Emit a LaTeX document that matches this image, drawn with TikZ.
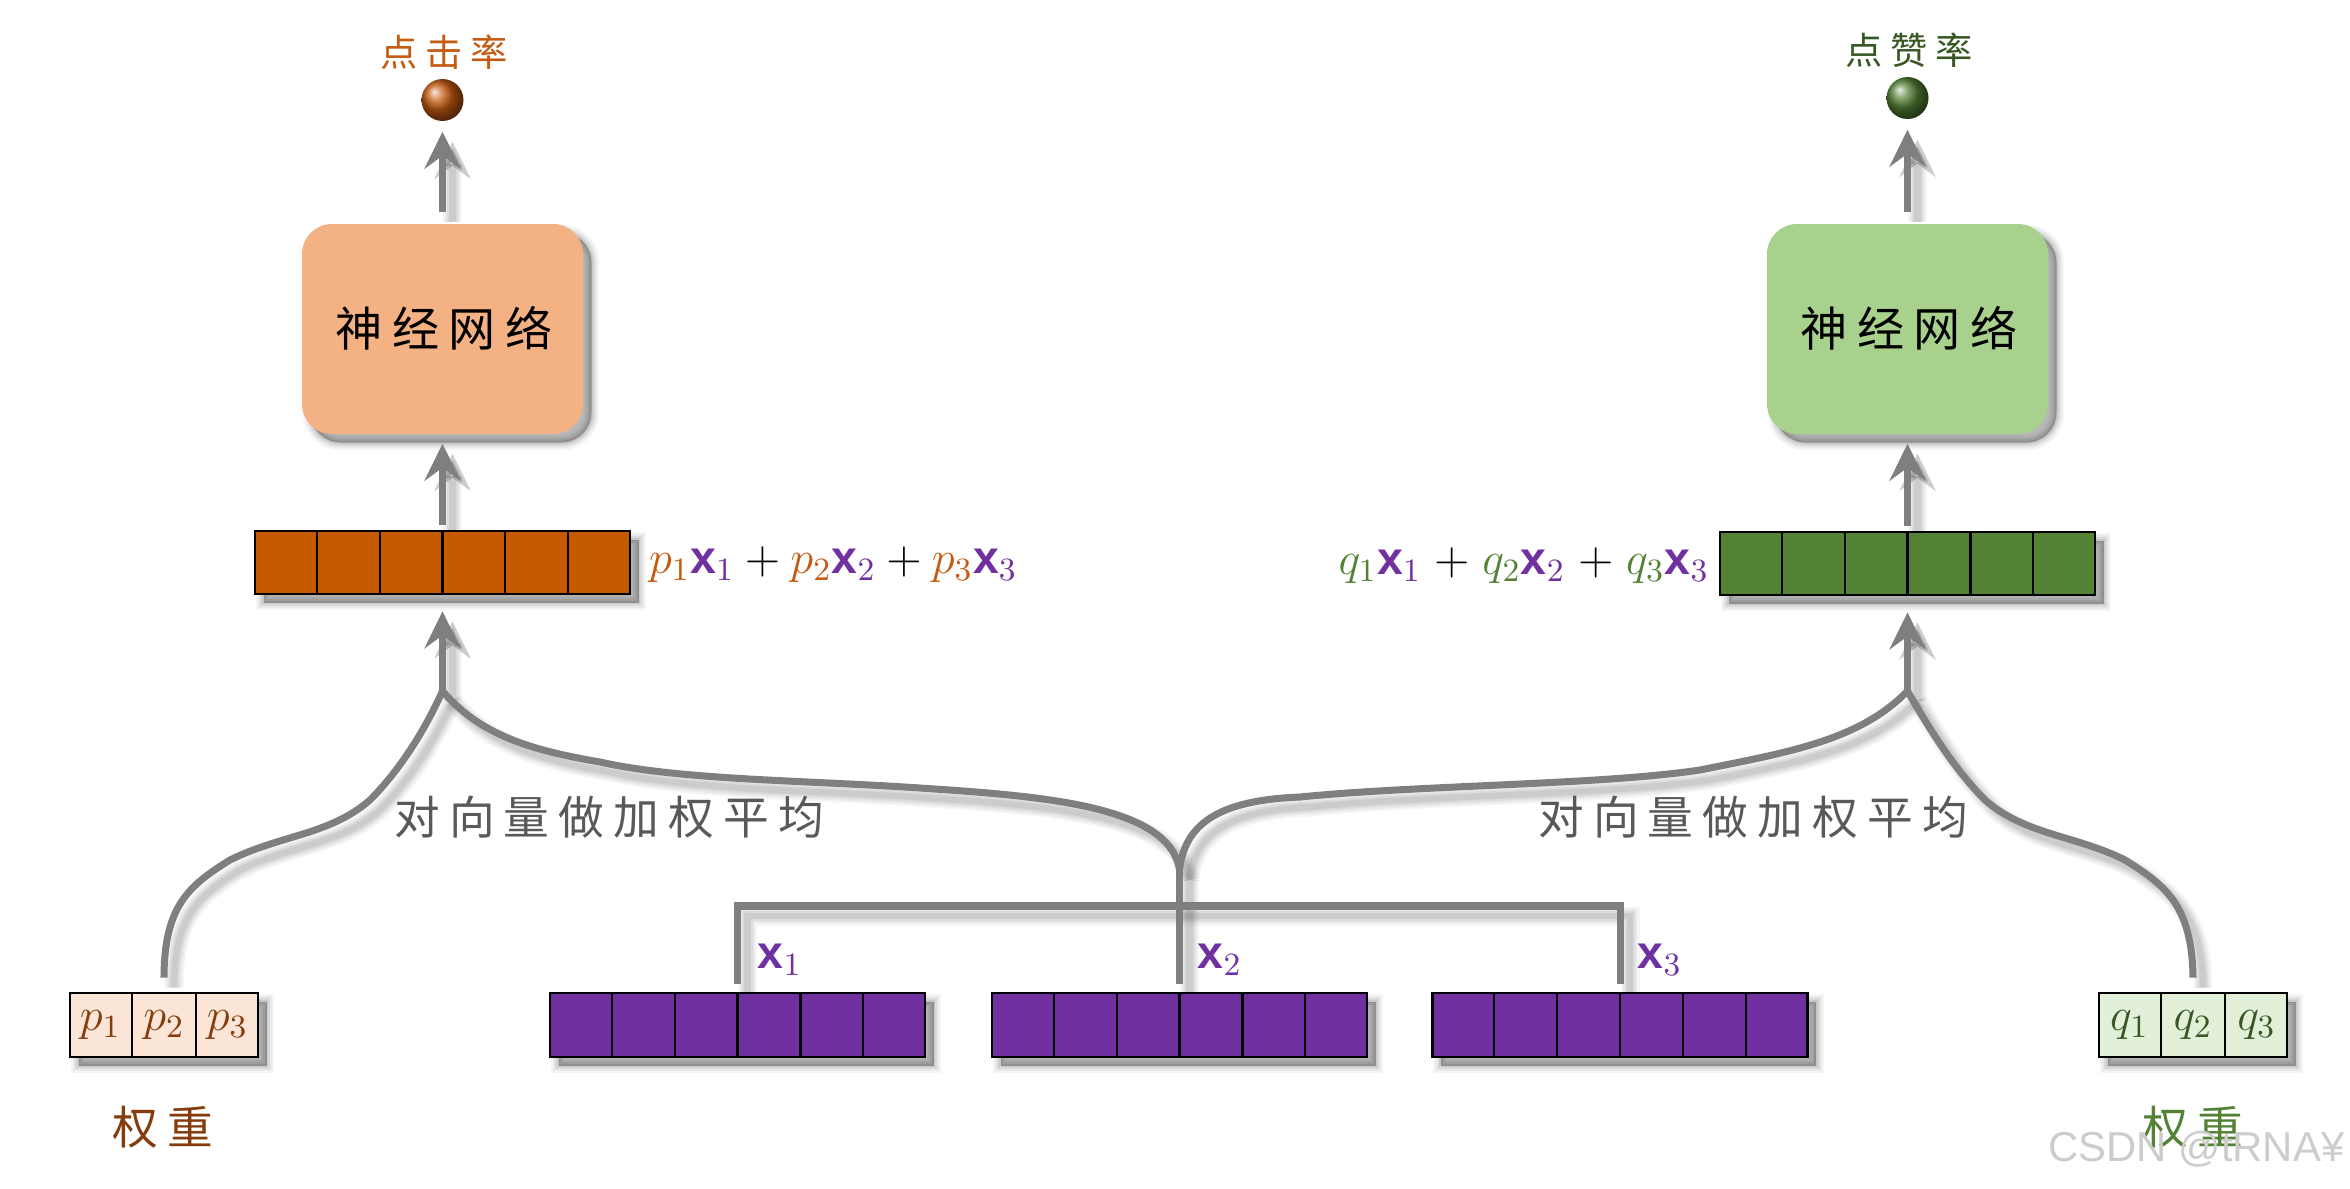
\documentclass[tikz,border=0pt]{standalone}
\usepackage{fix-cm}
\usepackage{fontspec}
\usepackage{xcolor}
\usetikzlibrary{arrows.meta, positioning, calc, backgrounds}
\setmainfont{Liberation Sans}
\newfontfamily\cjk[LetterSpace=20]{Noto Sans CJK SC}
\definecolor{clickorange}{RGB}{197, 90, 17}
\definecolor{clickvec}{RGB}{197, 90, 0}
\definecolor{clickbrown}{RGB}{132, 60, 12}
\definecolor{clickfill}{RGB}{244, 177, 131}
\definecolor{clicklight}{RGB}{251, 229, 214}
\definecolor{likegreen}{RGB}{84, 130, 53}
\definecolor{likedark}{RGB}{56, 87, 35}
\definecolor{likefill}{RGB}{169, 209, 142}
\definecolor{likelight}{RGB}{226, 240, 217}
\definecolor{vecpurple}{RGB}{112, 48, 160}
\definecolor{flowgray}{RGB}{127, 127, 127}

% divider lines of a vector node
\newcommand{\celllines}[2]{
    \foreach \i in {1,...,#2} {
        \pgfmathsetmacro{\pos}{\i/#2}
        \ifnum\i<#2
            \draw[line width=.6pt] ($(#1.south west)!\pos!(#1.south east)$) -- ($(#1.north west)!\pos!(#1.north east)$);
        \fi
    }
}
% one p_i x_i term
\newcommand{\weighted}[3]{\textcolor{#1}{$#2_{#3}$}\textcolor{vecpurple}{$\mathbf{x}_{#3}$}}
% every grey connector, also used for the shadow copy
\newcommand{\flowpaths}[1]{
    \draw[#1, flowtip, shorten >=.1cm, shorten <=.11cm] (netp) -- (ballp);
    \draw[#1, flowtip, shorten >=.1cm, shorten <=.11cm] (netq) -- (ballq);
    \draw[#1, flowtip, shorten >=.09cm, shorten <=.05cm] (vecp) -- (netp);
    \draw[#1, flowtip, shorten >=.09cm, shorten <=.05cm] (vecq) -- (netq);
    \draw[#1, flowtip, shorten >=.16cm] (joinp) -- (vecp);
    \draw[#1, flowtip, shorten >=.16cm] (joinq) -- (vecq);
    \draw[#1] ([yshift=.14cm]wp.north) .. controls (1.64,2.83) and (1.90,3.03) .. (2.30,3.28)
        .. controls (2.80,3.53) and (3.30,3.53) .. (3.70,3.88)
        .. controls (4.00,4.18) and (4.25,4.58) .. (joinp);
    \draw[#1] ([yshift=.14cm]wq.north) .. controls (21.92,2.83) and (21.65,3.03) .. (21.25,3.28)
        .. controls (20.75,3.53) and (20.25,3.53) .. (19.85,3.88)
        .. controls (19.55,4.18) and (19.30,4.58) .. (joinq);
    \draw[#1] (joinp) .. controls (4.80,4.53) and (5.30,4.38) .. (6.00,4.26)
        .. controls (6.80,4.08) and (8.00,4.08) .. (9.20,4.00)
        .. controls (10.40,3.92) and (11.70,3.83) .. (splitx);
    \draw[#1] (splitx) .. controls (11.85,3.68) and (12.25,3.88) .. (13.00,3.91)
        .. controls (14.20,4.03) and (16.00,4.03) .. (17.00,4.18)
        .. controls (17.90,4.36) and (18.60,4.48) .. (joinq);
    \draw[#1] ([yshift=.08cm]xa.north) |- (busx);
    \draw[#1] ([yshift=.08cm]xc.north) |- (busx);
    \draw[#1] ([yshift=.08cm]xb.north) -- (splitx);
}

\begin{document}
\begin{tikzpicture}[
    softshadow/.style={
        preaction={draw=black, fill=black, draw opacity=.04, fill opacity=.08, line width=4.4pt, transform canvas={shift={(.085,-.085)}}},
        preaction={draw=black, fill=black, draw opacity=.05, fill opacity=.08, line width=3.2pt, transform canvas={shift={(.085,-.085)}}},
        preaction={draw=black, fill=black, draw opacity=.07, fill opacity=.08, line width=2pt, transform canvas={shift={(.085,-.085)}}},
        preaction={draw=black, fill=black, draw opacity=.08, fill opacity=.08, line width=1pt, transform canvas={shift={(.085,-.085)}}}
    },
    net/.style={
        rectangle,
        rounded corners=.3cm,
        minimum width=2.81cm,
        minimum height=2.1cm,
        softshadow
    },
    vecbox/.style={
        rectangle,
        draw=black,
        line width=.75pt,
        minimum width=3.75cm,
        minimum height=.63cm,
        inner sep=0pt,
        softshadow
    },
    weightbox/.style={
        vecbox,
        minimum width=1.88cm
    },
    outball/.style={
        circle,
        minimum size=.42cm,
        inner sep=0pt,
        shading=ball
    },
    flowline/.style={
        draw=flowgray,
        line width=2pt
    },
    flowtip/.style={
        -{Stealth[length=.37cm,width=.36cm,inset=.13cm]}
    },
    cjklabel/.style={
        font=\cjk\fontsize{13}{15}\selectfont,
        inner sep=0pt
    },
    outlabel/.style={
        font=\cjk\fontsize{10.6}{12}\selectfont,
        inner sep=0pt
    },
    mathlabel/.style={
        font=\fontsize{13.2}{15}\selectfont,
        inner sep=0pt
    }
]
\useasboundingbox (0,0) rectangle (23.5,11.88);

% Output balls
\node[outball, ball color=clickorange] (ballp) at (4.425,10.88) {};
\node[outball, ball color=likegreen] (ballq) at (19.075,10.90) {};
\node[outlabel, text=clickorange] (clickrate) at (4.44,11.36) {点击率};
\node[outlabel, text=likedark] (likerate) at (19.09,11.38) {点赞率};

% Networks
\node[net, fill=clickfill] (netp) at (4.425,8.59) {};
\node[net, fill=likefill] (netq) at (19.075,8.59) {};
\node[font=\cjk\fontsize{13.4}{15}\selectfont, inner sep=0pt] (nettextp) at (4.44,8.60) {神经网络};
\node[font=\cjk\fontsize{13.4}{15}\selectfont, inner sep=0pt] (nettextq) at (19.09,8.60) {神经网络};

% Weighted vectors
\node[vecbox, fill=clickvec] (vecp) at (4.425,6.255) {};
\node[vecbox, fill=likegreen] (vecq) at (19.075,6.245) {};
\celllines{vecp}{6}
\celllines{vecq}{6}
\node[mathlabel, right=.17cm of vecp, yshift=-.02cm] (sump) {\weighted{clickorange}{p}{1}${}+{}$\weighted{clickorange}{p}{2}${}+{}$\weighted{clickorange}{p}{3}};
\node[mathlabel, left=.09cm of vecq, yshift=-.02cm] (sumq) {\weighted{likegreen}{q}{1}\hspace{.025cm}${}+{}$\hspace{.025cm}\weighted{likegreen}{q}{2}\hspace{.025cm}${}+{}$\hspace{.025cm}\weighted{likegreen}{q}{3}};

% Input vectors
\foreach \name/\xpos in {xa/7.375, xb/11.795, xc/16.20} {
    \node[vecbox, fill=vecpurple, minimum height=.64cm] (\name) at (\xpos,1.63) {};
    \celllines{\name}{6}
}
\node[mathlabel, text=vecpurple] (labela) at (7.80,2.28) {$\mathbf{x}_1$};
\node[mathlabel, text=vecpurple] (labelb) at (12.20,2.28) {$\mathbf{x}_2$};
\node[mathlabel, text=vecpurple] (labelc) at (16.60,2.28) {$\mathbf{x}_3$};

% Weights
\node[weightbox, fill=clicklight, minimum height=.64cm] (wp) at (1.64,1.63) {};
\node[weightbox, fill=likelight, minimum height=.64cm] (wq) at (21.93,1.63) {};
\celllines{wp}{3}
\celllines{wq}{3}
\foreach \i in {1,2,3} {
    \pgfmathsetmacro{\pos}{(2*\i-1)/6}
    \node[mathlabel, text=clickbrown] (wp\i) at ($(wp.west)!\pos!(wp.east)$) {$p_\i$};
    \node[mathlabel, text=likedark] (wq\i) at ($(wq.west)!\pos!(wq.east)$) {$q_\i$};
}
\node[cjklabel, text=clickbrown] (weightp) at (1.63,.61) {权重};
\node[cjklabel, text=likegreen] (weightq) at (21.93,.61) {权重};

% Connectors
\coordinate (joinp) at (4.425,4.97);
\coordinate (joinq) at (19.075,4.97);
\coordinate (busx) at (11.795,2.82);
\coordinate (splitx) at (11.795,3.18);
\begin{scope}[on background layer]
    \foreach \w/\o in {5.4pt/.04, 4.2pt/.05, 3pt/.06, 1.8pt/.07} {
        \begin{scope}[transform canvas={shift={(.1,-.1)}}]
            \flowpaths{draw=black, opacity=\o, line width=\w}
        \end{scope}
    }
\end{scope}
\flowpaths{flowline}

\node[cjklabel, text=black!65] (avgp) at (6.09,3.71) {对向量做加权平均};
\node[cjklabel, text=black!65] (avgq) at (17.53,3.71) {对向量做加权平均};

% Mark in the corner
\node[font=\fontsize{11.9}{14}\selectfont, text=black!20, inner sep=0pt, anchor=east] (marktext) at (23.45,.39) {CSDN @tRNA¥};

\end{tikzpicture}
\end{document}
